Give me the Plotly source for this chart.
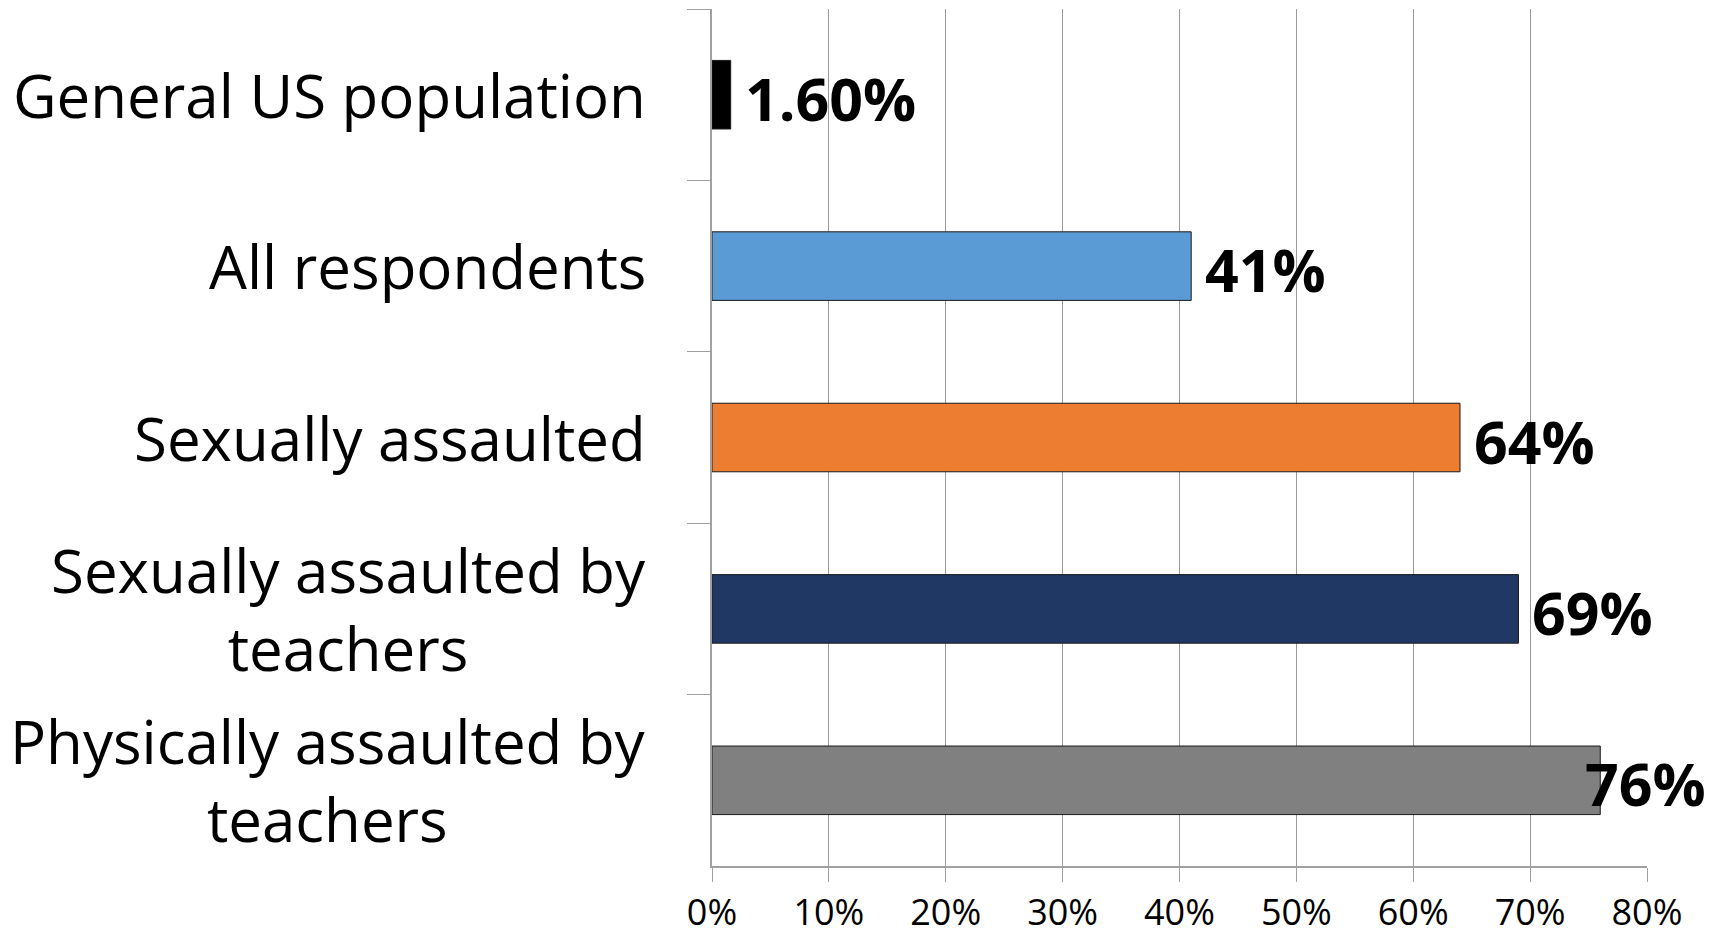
import plotly.graph_objects as go

# --- data ---
categories = [
    "General US population",
    "All respondents",
    "Sexually assaulted",
    "Sexually assaulted by<br>teachers",
    "Physically assaulted by<br>teachers",
]
values = [1.6, 41, 64, 69, 76]
value_labels = ["1.60%", "41%", "64%", "69%", "76%"]
bar_colors = ["#000000", "#5B9BD5", "#ED7D31", "#203864", "#808080"]
x_ticks = [0, 10, 20, 30, 40, 50, 60, 70, 80]
x_tick_labels = ["0%", "10%", "20%", "30%", "40%", "50%", "60%", "70%", "80%"]

FONT = "Open Sans"

fig = go.Figure()
fig.add_trace(go.Bar(
    x=values,
    y=categories,
    orientation="h",
    marker=dict(color=bar_colors, line=dict(color="#1a1a1a", width=1)),
    hoverinfo="skip",
))

# category labels (centred multi-line text, right aligned to the axis)
for cat in categories:
    fig.add_annotation(
        x=0, xref="paper", y=cat, yref="y",
        text=cat, showarrow=False,
        xanchor="right", yanchor="middle", align="center",
        xshift=-64,
        font=dict(family=FONT, size=60, color="#000000"),
    )

# value labels at the bar ends
for cat, v, lab in zip(categories, values, value_labels):
    fig.add_annotation(
        x=v, xref="x", y=cat, yref="y",
        text="<b>" + lab + "</b>", showarrow=False,
        xanchor="left", yanchor="middle",
        xshift=12 if v < 75 else -17, yshift=-3,
        font=dict(family=FONT, size=59, color="#000000"),
    )

fig.update_layout(
    width=1716,
    height=935,
    margin=dict(l=712, r=69, t=9, b=69),
    paper_bgcolor="white",
    plot_bgcolor="white",
    showlegend=False,
    bargap=0.6,
)
fig.update_xaxes(
    range=[0, 80],
    tickvals=x_ticks,
    ticktext=x_tick_labels,
    tickfont=dict(family=FONT, size=36, color="#000000"),
    showgrid=True, gridcolor="#9a9a9a", gridwidth=1,
    showline=True, linecolor="#a0a0a0", linewidth=2,
    ticks="outside", ticklen=14, tickcolor="#a0a0a0",
    ticklabelstandoff=0,
    zeroline=False,
    automargin=False,
)
fig.update_yaxes(
    autorange="reversed",
    showticklabels=False,
    tickson="boundaries",
    ticks="outside", ticklen=23, tickcolor="#a0a0a0",
    showline=True, linecolor="#a0a0a0", linewidth=1.5,
    showgrid=False,
    automargin=False,
)

# drop the default body margin so the figure sits at the window origin
fig.write_html(
    "out.html",
    config={"displayModeBar": False},
    post_script="document.body.style.margin='0';",
)
